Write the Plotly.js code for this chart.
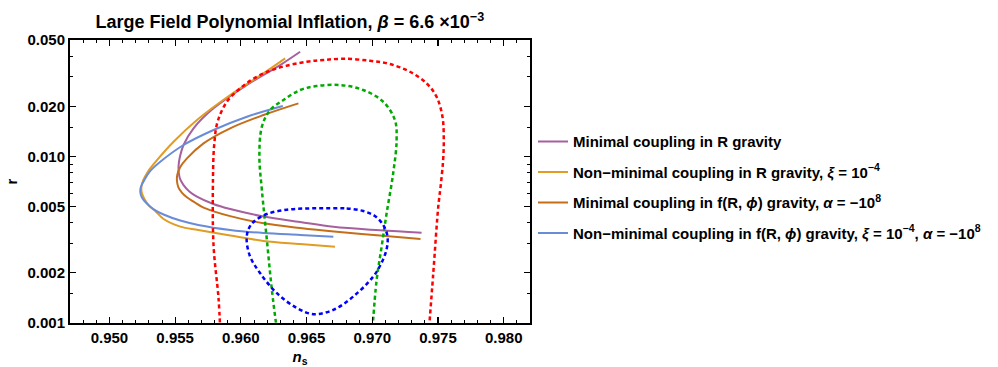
<!DOCTYPE html>
<html>
<head>
<meta charset="utf-8">
<script src="https://cdn.plot.ly/plotly-3.0.1.min.js"></script>
<style>html,body{margin:0;padding:0;background:#fff;}</style>
</head>
<body>
<div id="chart" style="width:998px;height:367px;"></div>
<script>
// n_s – r predictions for large-field polynomial inflation
const minR_ns = [0.96451, 0.96299, 0.96046, 0.95792, 0.95640, 0.95564, 0.95534, 0.95526, 0.95528, 0.95539, 0.95564, 0.95608, 0.95666, 0.95790, 0.95919, 0.96172, 0.96451, 0.96704, 0.97058, 0.97375];
const minR_r  = [0.04251, 0.03537, 0.02684, 0.01944, 0.01475, 0.01171, 0.00974, 0.00876, 0.00795, 0.00727, 0.00673, 0.00616, 0.00573, 0.00518, 0.00483, 0.00436, 0.00404, 0.00378, 0.00360, 0.00348];

const nonminR_ns = [0.96337, 0.96172, 0.95919, 0.95666, 0.95488, 0.95362, 0.95296, 0.95258, 0.95243, 0.95247, 0.95266, 0.95300, 0.95349, 0.95412, 0.95539, 0.95676, 0.95919, 0.96172, 0.96451, 0.96716];
const nonminR_r  = [0.03879, 0.03154, 0.02336, 0.01654, 0.01225, 0.00951, 0.00818, 0.00722, 0.00655, 0.00603, 0.00555, 0.00507, 0.00470, 0.00421, 0.00379, 0.00362, 0.00335, 0.00311, 0.00298, 0.00287];

const minF_ns = [0.96438, 0.96172, 0.95919, 0.95716, 0.95590, 0.95539, 0.95516, 0.95514, 0.95524, 0.95551, 0.95592, 0.95646, 0.95716, 0.95919, 0.96172, 0.96451, 0.96729, 0.97058, 0.97367];
const minF_r  = [0.02083, 0.01772, 0.01475, 0.01198, 0.00974, 0.00864, 0.00773, 0.00712, 0.00655, 0.00607, 0.00567, 0.00532, 0.00493, 0.00438, 0.00397, 0.00372, 0.00353, 0.00335, 0.00319];

const nonminF_ns = [0.96319, 0.96046, 0.95792, 0.95564, 0.95387, 0.95311, 0.95266, 0.95239, 0.95235, 0.95247, 0.95281, 0.95334, 0.95412, 0.95539, 0.95676, 0.95919, 0.96172, 0.96451, 0.96704];
const nonminF_r  = [0.02007, 0.01731, 0.01441, 0.01171, 0.00929, 0.00818, 0.00722, 0.00655, 0.00611, 0.00567, 0.00525, 0.00483, 0.00448, 0.00412, 0.00388, 0.00362, 0.00347, 0.00338, 0.00330];

// observational contours
const redCL_ns = [0.95843, 0.95830, 0.95792, 0.95788, 0.95797, 0.95823, 0.95894, 0.95995, 0.96122, 0.96274, 0.96502, 0.96628, 0.96780, 0.96982, 0.97134, 0.97286, 0.97413, 0.97489, 0.97534, 0.97544, 0.97539, 0.97521, 0.97502, 0.97464, 0.97431];
const redCL_r  = [0.00091, 0.00141, 0.00294, 0.00739, 0.01171, 0.01616, 0.02130, 0.02564, 0.03008, 0.03380, 0.03703, 0.03790, 0.03858, 0.03753, 0.03585, 0.03224, 0.02747, 0.02282, 0.01731, 0.01254, 0.00951, 0.00673, 0.00499, 0.00199, 0.00091];

const greenCL_ns = [0.96274, 0.96236, 0.96198, 0.96160, 0.96141, 0.96160, 0.96223, 0.96324, 0.96451, 0.96577, 0.96754, 0.96931, 0.97083, 0.97172, 0.97185, 0.97159, 0.97109, 0.97071, 0.97033, 0.97001];
const greenCL_r  = [0.00091, 0.00158, 0.00315, 0.00628, 0.00996, 0.01508, 0.01899, 0.02180, 0.02504, 0.02647, 0.02684, 0.02504, 0.02130, 0.01654, 0.01254, 0.00792, 0.00455, 0.00287, 0.00181, 0.00091];

const blueCL_ns = [0.96653, 0.96805, 0.96931, 0.97020, 0.97083, 0.97115, 0.97111, 0.97073, 0.97007, 0.96855, 0.96704, 0.96552, 0.96426, 0.96274, 0.96147, 0.96071, 0.96044, 0.96056, 0.96096, 0.96198, 0.96350, 0.96502, 0.96653];
const blueCL_r  = [0.00488, 0.00487, 0.00470, 0.00439, 0.00388, 0.00333, 0.00282, 0.00232, 0.00190, 0.00144, 0.00120, 0.00113, 0.00123, 0.00151, 0.00199, 0.00250, 0.00315, 0.00362, 0.00404, 0.00451, 0.00479, 0.00487, 0.00488];

const seriesNames = [
  'Minimal coupling in R gravity',
  'Non\u2212minimal coupling in R gravity, <i>\u03be</i> = 10<sup>\u22124</sup>',
  'Minimal coupling in f(R, <i>\u03d5</i>) gravity, <i>\u03b1</i> = \u221210<sup>8</sup>',
  'Non\u2212minimal coupling in f(R, <i>\u03d5</i>) gravity, <i>\u03be</i> = 10<sup>\u22124</sup>, <i>\u03b1</i> = \u221210<sup>8</sup>'
];
const seriesColors = ['#a5609d', '#e19c24', '#c56e1a', '#6a8cd8'];

const yTickVals = [0.001, 0.002, 0.005, 0.01, 0.02, 0.05];
const yTickText = ['0.001', '0.002', '0.005', '0.010', '0.020', '0.050'];
const yMinorVals = [0.0015, 0.003, 0.004, 0.006, 0.007, 0.008, 0.009, 0.015, 0.03, 0.04];

const FONT = 'Liberation Sans, Arial, sans-serif';

function curve(ns, r, i) {
  return {
    x: ns, y: r, type: 'scatter', mode: 'lines',
    name: seriesNames[i], legendgroup: 'g' + i,
    line: {color: seriesColors[i], width: 2, shape: 'spline', smoothing: 1}
  };
}
function contour(ns, r, color) {
  return {
    x: ns, y: r, type: 'scatter', mode: 'lines', showlegend: false, hoverinfo: 'skip',
    line: {color: color, width: 2.5, dash: '4px,3px', shape: 'spline', smoothing: 1}
  };
}

const traces = [
  curve(minR_ns, minR_r, 0),
  curve(nonminR_ns, nonminR_r, 1),
  curve(minF_ns, minF_r, 2),
  curve(nonminF_ns, nonminF_r, 3),
  contour(redCL_ns, redCL_r, '#ff0000'),
  contour(greenCL_ns, greenCL_r, '#00aa00'),
  contour(blueCL_ns, blueCL_r, '#0000ff')
];

const layout = {
  width: 998, height: 367,
  margin: {l: 70, r: 468, t: 40, b: 44},
  paper_bgcolor: '#fff', plot_bgcolor: '#fff',
  font: {family: FONT, size: 15, color: '#000', weight: 'bold'},
  title: {
    text: 'Large Field Polynomial Inflation, <i>\u03b2</i> = 6.6 \u00d710<sup>\u22123</sup>',
    font: {family: FONT, size: 18, weight: 'bold', color: '#000'},
    xref: 'paper', x: 0.478, xanchor: 'center',
    yref: 'container', y: 0.94, yanchor: 'middle'
  },
  xaxis: {
    range: [0.947, 0.982],
    tickmode: 'linear', tick0: 0.95, dtick: 0.005, tickformat: '.3f',
    ticks: 'inside', ticklen: 6, tickwidth: 1.2, tickcolor: '#000',
    minor: {tickmode: 'linear', tick0: 0.95, dtick: 0.001, ticks: 'inside', ticklen: 3, tickwidth: 1, tickcolor: '#000', showgrid: false},
    showline: true, linecolor: '#000', linewidth: 2, mirror: 'ticks',
    showgrid: false, zeroline: false,
    tickfont: {family: FONT, size: 15, weight: 'bold'},
    title: {text: '<i>n</i><sub>s</sub>', font: {family: FONT, size: 15, weight: 'bold'}, standoff: 12}
  },
  yaxis: {
    type: 'log', range: [-3, Math.log10(0.05)],
    tickmode: 'array', tickvals: yTickVals, ticktext: yTickText,
    ticks: 'inside', ticklen: 6, tickwidth: 1.2, tickcolor: '#000',
    minor: {tickmode: 'array', tickvals: yMinorVals, ticks: 'inside', ticklen: 3, tickwidth: 1, tickcolor: '#000', showgrid: false},
    showline: true, linecolor: '#000', linewidth: 2, mirror: 'ticks',
    showgrid: false, zeroline: false,
    tickfont: {family: FONT, size: 15, weight: 'bold'},
    title: {text: 'r', font: {family: FONT, size: 15, weight: 'bold'}, standoff: 6}
  },
  legend: {
    x: 1.0065, xanchor: 'left', xref: 'paper',
    y: 0.699, yanchor: 'top', yref: 'paper',
    traceorder: 'grouped', tracegroupgap: 8,
    font: {family: FONT, size: 15, weight: 'bold', color: '#000'},
    bgcolor: 'rgba(0,0,0,0)', borderwidth: 0
  },
  showlegend: true
};

Plotly.newPlot('chart', traces, layout, {staticPlot: true, displayModeBar: false});
</script>
</body>
</html>
